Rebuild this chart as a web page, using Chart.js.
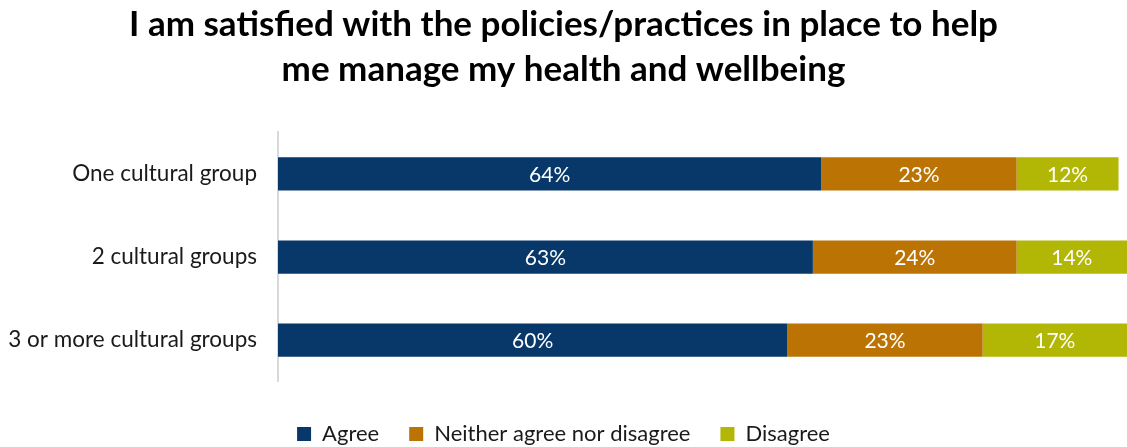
<!DOCTYPE html>
<html>
<head>
<meta charset="utf-8">
<script src="https://cdn.jsdelivr.net/npm/chart.js@4.4.1/dist/chart.umd.min.js"></script>
<style>
  html, body { margin: 0; padding: 0; background: #ffffff; }
  #wrap { width: 1127px; height: 447px; }
</style>
</head>
<body>
<div id="wrap"><canvas id="chart" width="1127" height="447"></canvas></div>
<script>
const categories = ['One cultural group', '2 cultural groups', '3 or more cultural groups'];
const seriesNames = ['Agree', 'Neither agree nor disagree', 'Disagree'];
const agree = [64, 63, 60];
const neither = [23, 24, 23];
const disagree = [12, 14, 17];
const colors = ['#08386A', '#BB7404', '#B2B604'];

const FONT = 'Lato, "Open Sans", sans-serif';

// Writes each segment's percentage in white at the centre of its bar
const segmentLabels = {
  id: 'segmentLabels',
  afterDatasetsDraw(chart) {
    const ctx = chart.ctx;
    ctx.save();
    ctx.fillStyle = '#ffffff';
    ctx.font = '21px ' + FONT;
    ctx.textAlign = 'center';
    ctx.textBaseline = 'middle';
    chart.data.datasets.forEach((ds, i) => {
      chart.getDatasetMeta(i).data.forEach((bar, j) => {
        const left = Math.min(bar.x, bar.base);
        const right = Math.min(Math.max(bar.x, bar.base), chart.chartArea.right);
        ctx.fillText(ds.data[j] + '%', (left + right) / 2, bar.y + 1);
      });
    });
    ctx.restore();
  }
};

new Chart(document.getElementById('chart'), {
  type: 'bar',
  data: {
    labels: categories,
    datasets: [
      { label: seriesNames[0], data: agree, backgroundColor: colors[0] },
      { label: seriesNames[1], data: neither, backgroundColor: colors[1] },
      { label: seriesNames[2], data: disagree, backgroundColor: colors[2] }
    ]
  },
  options: {
    indexAxis: 'y',
    responsive: false,
    animation: false,
    layout: { padding: { left: 0, right: 0, top: 0, bottom: -8 } },
    datasets: { bar: { categoryPercentage: 1, barPercentage: 0.4, borderWidth: 0 } },
    scales: {
      x: { stacked: true, min: 0, max: 100, display: false },
      y: {
        stacked: true,
        grid: { display: false, drawTicks: false },
        border: { display: true, color: '#d9d9d9', width: 2 },
        ticks: { color: '#1a1a1a', font: { family: FONT, size: 22.5 }, padding: 21 },
        afterFit(scale) { scale.width = 278; }
      }
    },
    plugins: {
      title: {
        display: true,
        text: ['I am satisfied with the policies/practices in place to help', 'me manage my health and wellbeing'],
        color: '#000000',
        font: { family: FONT, size: 35, weight: 'bold', lineHeight: 1.29 },
        padding: { top: 2, bottom: 40 }
      },
      legend: {
        position: 'bottom',
        title: { display: true, text: ' ', font: { size: 1 }, padding: 5 },
        labels: {
          color: '#1a1a1a',
          font: { family: FONT, size: 22 },
          boxWidth: 14,
          boxHeight: 14,
          padding: 30
        }
      },
      tooltip: { enabled: false }
    }
  },
  plugins: [segmentLabels]
});
</script>
</body>
</html>
